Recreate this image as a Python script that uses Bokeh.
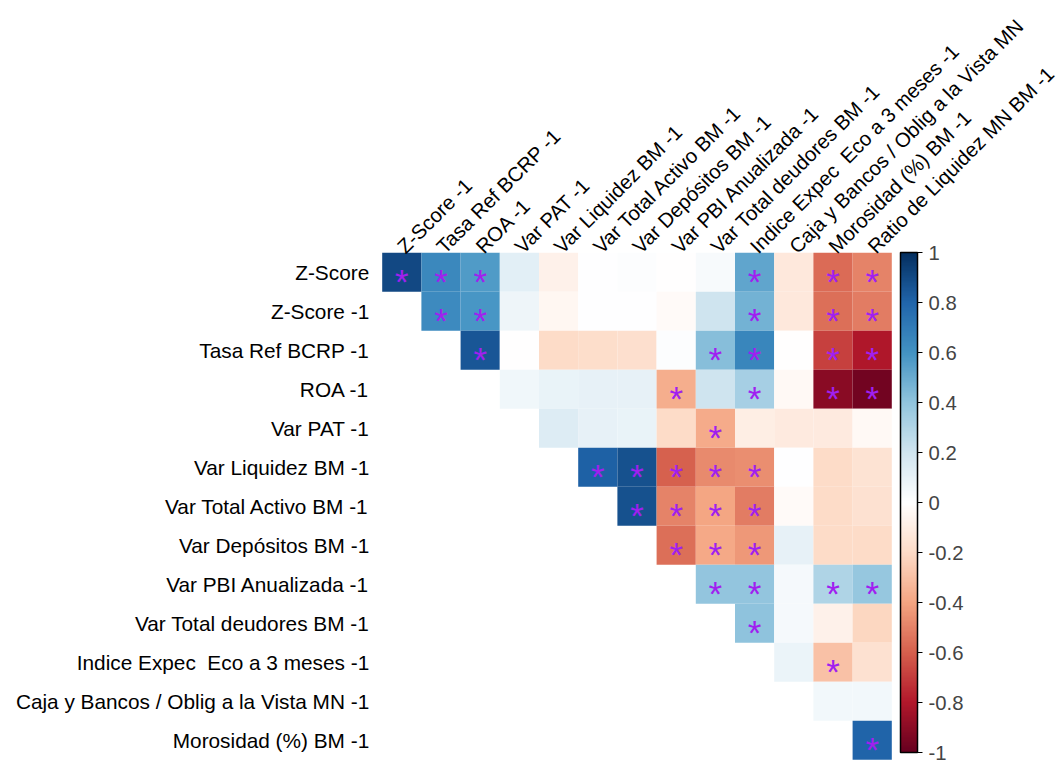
import numpy as np
from bokeh.plotting import figure
from bokeh.models import ColumnDataSource, LinearColorMapper, ColorBar, FixedTicker, Range1d
from bokeh.core.properties import value
from bokeh.embed import file_html
from bokeh.resources import INLINE

row_labels = ["Z-Score", "Z-Score -1", "Tasa Ref BCRP -1", "ROA -1", "Var PAT -1",
              "Var Liquidez BM -1", "Var Total Activo BM -1", "Var Depósitos BM -1",
              "Var PBI Anualizada -1", "Var Total deudores BM -1",
              "Indice Expec\u00a0 Eco a 3 meses -1", "Caja y Bancos / Oblig a la Vista MN -1",
              "Morosidad (%) BM -1"]
col_labels = ["Z-Score -1", "Tasa Ref BCRP -1", "ROA -1", "Var PAT -1",
              "Var Liquidez BM -1", "Var Total Activo BM -1", "Var Depósitos BM -1",
              "Var PBI Anualizada -1", "Var Total deudores BM -1",
              "Indice Expec\u00a0 Eco a 3 meses -1", "Caja y Bancos / Oblig a la Vista MN",
              "Morosidad (%) BM -1", "Ratio de Liquidez MN BM -1"]

# correlation values (upper triangle, row i starts at column i)
corr_rows = [
    [0.90, 0.64, 0.57, 0.12, -0.07, 0.00, 0.01, -0.01, 0.03, 0.52, -0.13, -0.57, -0.50],
    [0.63, 0.58, 0.07, -0.05, 0.00, 0.00, -0.03, 0.20, 0.47, -0.13, -0.55, -0.52],
    [0.86, -0.01, -0.20, -0.19, -0.18, 0.01, 0.42, 0.65, -0.01, -0.68, -0.80],
    [0.06, 0.09, 0.10, 0.10, -0.37, 0.20, 0.33, -0.04, -0.90, -0.97],
    [0.15, 0.10, 0.09, -0.20, -0.38, -0.10, -0.12, -0.12, -0.04],
    [0.82, 0.88, -0.60, -0.48, -0.47, 0.00, -0.20, -0.16],
    [0.88, -0.50, -0.40, -0.52, -0.03, -0.20, -0.17],
    [-0.55, -0.39, -0.44, 0.10, -0.20, -0.20],
    [0.39, 0.39, 0.04, 0.30, 0.38],
    [0.40, 0.04, -0.08, -0.22],
    [0.08, -0.30, -0.17],
    [0.05, 0.05],
    [0.80],
]
# significance flags (1 = asterisk), same layout
sig_rows = [
    [1, 1, 1, 0, 0, 0, 0, 0, 0, 1, 0, 1, 1],
    [1, 1, 0, 0, 0, 0, 0, 0, 1, 0, 1, 1],
    [1, 0, 0, 0, 0, 0, 1, 1, 0, 1, 1],
    [0, 0, 0, 0, 1, 0, 1, 0, 1, 1],
    [0, 0, 0, 0, 1, 0, 0, 0, 0],
    [1, 1, 1, 1, 1, 0, 0, 0],
    [1, 1, 1, 1, 0, 0, 0],
    [1, 1, 1, 0, 0, 0],
    [1, 1, 0, 1, 1],
    [1, 0, 0, 0],
    [0, 1, 0],
    [0, 0],
    [1],
]
cb_ticks = [-1, -0.8, -0.6, -0.4, -0.2, 0, 0.2, 0.4, 0.6, 0.8, 1]
cb_tick_labels = ["-1", "-0.8", "-0.6", "-0.4", "-0.2", "0", "0.2", "0.4", "0.6", "0.8", "1"]

# RdBu palette (corrplot style), 200 steps
anchors = ["#67001F", "#B2182B", "#D6604D", "#F4A582", "#FDDBC7", "#FFFFFF",
           "#D1E5F0", "#92C5DE", "#4393C3", "#2166AC", "#053061"]
rgb = np.array([[int(h[i:i + 2], 16) for i in (1, 3, 5)] for h in anchors], dtype=float)
pos = np.linspace(0, 1, len(anchors))
t = np.linspace(0, 1, 200)
pal = []
for tt in t:
    c = [np.interp(tt, pos, rgb[:, k]) for k in range(3)]
    pal.append("#%02x%02x%02x" % tuple(int(round(v)) for v in c))
mapper = LinearColorMapper(palette=pal, low=-1, high=1)

xs, ys, rs = [], [], []
sx, sy = [], []
for i, (vals, sigs) in enumerate(zip(corr_rows, sig_rows)):
    for k, (v, s) in enumerate(zip(vals, sigs)):
        j = i + k
        xs.append(j); ys.append(i); rs.append(v)
        if s:
            sx.append(j); sy.append(i)

cells = ColumnDataSource(dict(x=xs, y=ys, r=rs))
stars = ColumnDataSource(dict(x=sx, y=sy, t=["*"] * len(sx)))
rows_src = ColumnDataSource(dict(x=[-0.5] * len(row_labels), y=list(range(len(row_labels))), t=row_labels))
cols_src = ColumnDataSource(dict(x=list(range(len(col_labels))), y=[-0.5] * len(col_labels), t=col_labels))

W, H = 1060, 769
CW, CH = 39.2, 39.0
x0 = 401.3 / CW
y0 = 271.8 / CH
p = figure(width=W, height=H, output_backend="svg", toolbar_location=None,
           x_range=Range1d(-x0, W / CW - x0), y_range=Range1d(H / CH - y0, -y0),
           x_axis_location=None, y_axis_location=None, min_border=0)
p.grid.visible = False
p.outline_line_color = None
p.background_fill_color = "white"

FONT = value("Liberation Sans")
p.rect(x="x", y="y", width=1, height=1, source=cells,
       fill_color={"field": "r", "transform": mapper}, line_color=None)

p.text(x="x", y="y", text="t", source=stars, text_color="#A020F0",
       text_font=FONT, text_font_size="35px", text_align="center",
       text_baseline="middle", y_offset=9)

p.text(x="x", y="y", text="t", source=rows_src, text_color="black",
       text_font=FONT, text_font_size="20.8px", text_align="right",
       text_baseline="middle", x_offset=-13)

p.text(x="x", y="y", text="t", source=cols_src, text_color="black",
       text_font=FONT, text_font_size="20.3px", text_align="left",
       text_baseline="alphabetic", angle=np.pi / 4, y_offset=-3, x_offset=-1)

cb = ColorBar(color_mapper=mapper, location=(900, 769 - 752), width=17, height=500, padding=0,
              ticker=FixedTicker(ticks=cb_ticks),
              major_label_overrides={k: v for k, v in zip(cb_ticks, cb_tick_labels)},
              bar_line_color="black", bar_line_width=1.5,
              major_tick_line_color="black", major_tick_in=0, major_tick_out=5,
              major_label_text_font="Liberation Sans", major_label_text_font_size="20.3px",
              label_standoff=6, background_fill_alpha=0, border_line_color=None)
p.add_layout(cb, "center")

open("out.html", "w").write(file_html(p, INLINE))
